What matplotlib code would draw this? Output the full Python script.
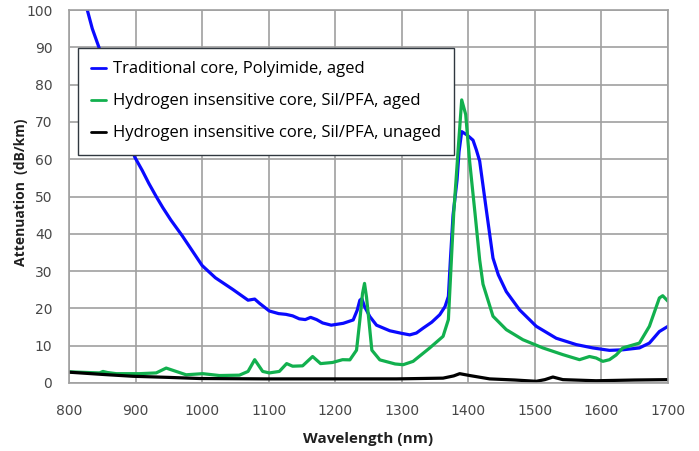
import matplotlib
matplotlib.use("Agg")
import matplotlib.pyplot as plt

# Traditional core, Polyimide, aged
blue_nm = [826, 835, 845, 860, 875, 890, 899, 910, 920, 931, 941, 953, 970, 985,
           1000, 1020, 1046, 1069, 1079, 1086, 1101, 1115, 1126, 1136, 1146, 1155,
           1163, 1172, 1181, 1194, 1212, 1227, 1233, 1237, 1240, 1244, 1252,
           1262, 1282, 1300, 1312, 1322, 1332, 1345, 1357, 1365, 1370, 1373, 1377,
           1383, 1386, 1390, 1398, 1407, 1412, 1417, 1427, 1437, 1445, 1457, 1477,
           1502, 1532, 1562, 1587, 1612, 1632, 1657, 1672, 1687, 1700]
blue_db = [101, 95, 90, 81.5, 73.5, 65, 60.5, 57, 53.5, 50, 47, 43.7, 39.5, 35.5,
           31.5, 28.2, 25.1, 22.2, 22.5, 21.4, 19.3, 18.6, 18.4, 18.0, 17.2, 17.0,
           17.6, 17.0, 16.1, 15.5, 16.0, 16.9, 19.5, 22.2, 22.6, 20.5, 17.8,
           15.5, 14.0, 13.3, 12.9, 13.4, 14.7, 16.3, 18.3, 20.5, 23.2, 33, 45,
           54.4, 62, 67.4, 66.5, 65.1, 62.5, 59.5, 46.4, 33.5, 29, 24.5, 19.6,
           15.2, 12, 10.3, 9.4, 8.75, 8.9, 9.4, 10.7, 13.8, 15.2]

# Hydrogen insensitive core, Sil/PFA, aged
green_nm = [800, 830, 846, 851, 858, 871, 906, 931, 946, 961, 976, 1001, 1026,
            1056, 1069, 1079, 1091, 1101, 1116, 1127, 1136, 1151, 1166, 1178, 1196,
            1211, 1222, 1232, 1237, 1241, 1244, 1247, 1250, 1255, 1267, 1290, 1302,
            1317, 1342, 1362, 1370, 1375, 1378, 1385, 1390, 1396, 1402, 1410, 1417,
            1422, 1437, 1457, 1482, 1512, 1542, 1567, 1582, 1592, 1602, 1612, 1622,
            1632, 1657, 1672, 1687, 1692, 1700]
green_db = [3.0, 2.8, 2.7, 3.1, 2.8, 2.5, 2.5, 2.7, 4.0, 3.1, 2.2, 2.5, 2.0,
            2.1, 3.1, 6.25, 3.1, 2.7, 3.1, 5.2, 4.5, 4.6, 7.1, 5.2, 5.5,
            6.25, 6.2, 8.8, 16.9, 24, 26.7, 23, 17.8, 8.8, 6.2, 5.1, 4.9,
            5.8, 9.4, 12.5, 17, 34.8, 45.5, 63.4, 75.9, 72, 59.3, 45.5, 33,
            26.5, 17.9, 14.3, 11.6, 9.4, 7.6, 6.25, 7.1, 6.7, 5.8, 6.25, 7.5,
            9.4, 10.7, 15.2, 22.8, 23.4, 21.9]

# Hydrogen insensitive core, Sil/PFA, unaged
black_nm = [800, 850, 896, 950, 996, 1096, 1221, 1292, 1362, 1378, 1387, 1402,
            1432, 1470, 1502, 1515, 1527, 1542, 1592, 1650, 1700]
black_db = [2.9, 2.3, 1.8, 1.5, 1.2, 1.1, 1.1, 1.1, 1.3, 1.9, 2.5, 2.0,
            1.1, 0.8, 0.45, 0.9, 1.6, 0.9, 0.6, 0.8, 0.9]

x_ticks = [800, 900, 1000, 1100, 1200, 1300, 1400, 1500, 1600, 1700]
y_ticks = [0, 10, 20, 30, 40, 50, 60, 70, 80, 90, 100]

labels = [
    "Traditional core, Polyimide, aged",
    "Hydrogen insensitive core, Sil/PFA, aged",
    "Hydrogen insensitive core, Sil/PFA, unaged",
]

plt.rcParams["font.family"] = ["Open Sans", "DejaVu Sans"]

fig = plt.figure(figsize=(6.99, 4.51), dpi=100)
ax = fig.add_axes([0.0987, 0.1508, 0.857, 0.8270])

line_kw = dict(lw=2.3, solid_joinstyle="round", solid_capstyle="round")
ax.plot(blue_nm, blue_db, color="#0a0aff", label=labels[0], **line_kw)
ax.plot(green_nm, green_db, color="#12b04e", label=labels[1], **line_kw)
ax.plot(black_nm, black_db, color="black", label=labels[2], **line_kw)

ax.set_xlim(800, 1700)
ax.set_ylim(0, 100)
ax.set_xticks(x_ticks)
ax.set_yticks(y_ticks)
ax.grid(True, color="#a0a0a0", lw=1.2)
ax.set_axisbelow(True)
for sp in ax.spines.values():
    sp.set_color("#a0a0a0")
    sp.set_linewidth(1.2)

ax.tick_params(length=0, labelsize=10, colors="#474747")
ax.tick_params(axis="x", pad=15)
ax.tick_params(axis="y", pad=12)
for lbl in ax.get_xticklabels() + ax.get_yticklabels():
    lbl.set_family("DejaVu Sans")

ax.set_xlabel("Wavelength (nm)", fontsize=11, fontweight="bold",
              color="#202020", labelpad=10)
ax.set_ylabel("Attenuation  (dB/km)", fontsize=10, fontweight="bold",
              color="#202020")
ax.yaxis.set_label_coords(-0.068, 0.51)

leg = ax.legend(loc="upper left", bbox_to_anchor=(0.015, 0.898),
                fontsize=12, frameon=True, fancybox=False, framealpha=1,
                edgecolor="#303840", handlelength=0.9, handletextpad=0.4,
                labelspacing=0.96, borderpad=0.8, borderaxespad=0)
leg.get_frame().set_linewidth(1.0)
for line in leg.get_lines():
    line.set_linewidth(2.0)

fig.savefig("out.png", dpi=100)
